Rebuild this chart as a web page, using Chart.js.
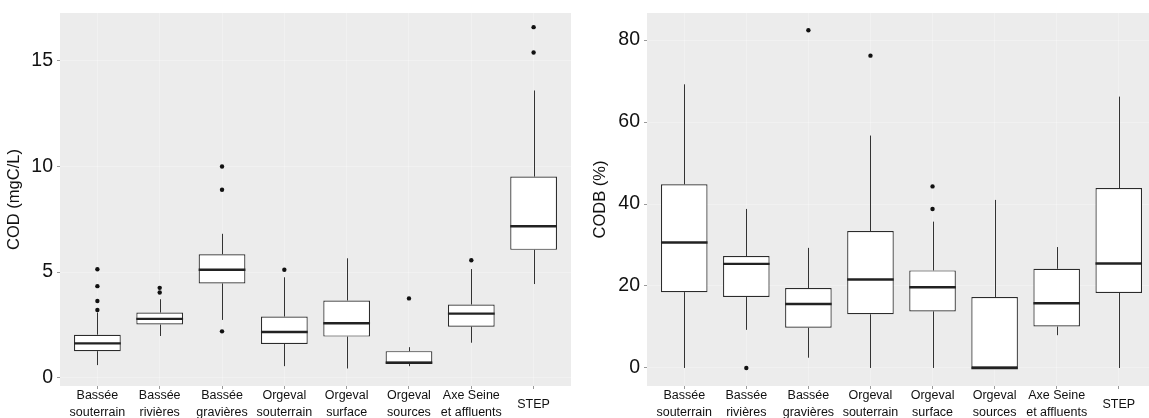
<!DOCTYPE html>
<html>
<head>
<meta charset="utf-8">
<script src="https://cdn.jsdelivr.net/npm/chart.js@4/dist/chart.umd.min.js"></script>
<style>
  html, body { margin: 0; padding: 0; background: #fff; overflow: hidden; width: 1149px; height: 418px; }
  canvas { position: absolute; top: 0; }
  #cod { left: 0; }
  #codb { left: 575px; }
</style>
</head>
<body>
<canvas id="cod" width="575" height="418"></canvas>
<canvas id="codb" width="585" height="418"></canvas>
<script>
const categories = [
    ['Bassée', 'souterrain'], ['Bassée', 'rivières'], ['Bassée', 'gravières'],
    ['Orgeval', 'souterrain'], ['Orgeval', 'surface'], ['Orgeval', 'sources'],
    ['Axe Seine', 'et affluents'], 'STEP'
];

// COD (mgC/L)
const codMin = [0.59, 1.97, 2.73, 0.54, 0.43, 0.54, 1.65, 4.43];
const codQ1 = [1.25, 2.51, 4.46, 1.59, 1.94, 0.70, 2.41, 6.05];
const codMed = [1.62, 2.78, 5.11, 2.16, 2.57, 0.70, 3.03, 7.17];
const codQ3 = [2.03, 3.08, 5.84, 2.89, 3.65, 1.25, 3.46, 9.52];
const codMax = [3.08, 3.71, 6.81, 4.75, 5.65, 1.44, 5.14, 13.6];
const codOut = [[3.2, 3.63, 4.33, 5.13], [4.03, 4.25], [2.19, 8.9, 10.0], [5.11], [], [3.75], [5.56], [15.4, 16.6]];
const codTicks = [0, 5, 10, 15];

// CODB (%)
const codbMin = [0, 9.3, 2.5, 0, 0, 0, 8.0, 0];
const codbQ1 = [18.5, 17.3, 9.8, 13.1, 13.8, 0, 10.1, 18.3];
const codbMed = [30.6, 25.4, 15.6, 21.6, 19.7, 0, 15.8, 25.5];
const codbQ3 = [44.8, 27.3, 19.5, 33.4, 23.8, 17.3, 24.2, 43.9];
const codbMax = [69.2, 38.8, 29.3, 56.7, 35.7, 41.0, 29.5, 66.2];
const codbOut = [[], [0], [82.4], [76.2], [38.8, 44.3], [], [], []];
const codbTicks = [0, 20, 40, 60, 80];

const font = "'Liberation Sans', Arial, sans-serif";

// panel background, whiskers and medians, all placed through the chart scales
function boxParts(lo, hi, med) {
    return {
        id: 'boxParts',
        beforeDraw(chart) {
            const { ctx, chartArea: a } = chart;
            ctx.save();
            ctx.fillStyle = '#ececec';
            ctx.fillRect(a.left, a.top, a.width, a.height);
            ctx.restore();
        },
        beforeDatasetsDraw(chart) {
            const { ctx, scales: { x, y } } = chart;
            const boxes = chart.data.datasets[0].data;
            ctx.save();
            ctx.strokeStyle = '#333';
            ctx.lineWidth = 1;
            boxes.forEach((b, i) => {
                const px = Math.round(x.getPixelForValue(b.x)) + 0.5;
                ctx.beginPath();
                ctx.moveTo(px, y.getPixelForValue(lo[i]));
                ctx.lineTo(px, y.getPixelForValue(b.y[0]));
                ctx.moveTo(px, y.getPixelForValue(b.y[1]));
                ctx.lineTo(px, y.getPixelForValue(hi[i]));
                ctx.stroke();
            });
            ctx.restore();
        },
        afterDatasetsDraw(chart) {
            const { ctx, scales: { y } } = chart;
            const bars = chart.getDatasetMeta(0).data;
            ctx.save();
            ctx.strokeStyle = '#222';
            ctx.lineWidth = 2.4;
            bars.forEach((bar, i) => {
                const py = y.getPixelForValue(med[i]);
                ctx.beginPath();
                ctx.moveTo(bar.x - bar.width / 2, py);
                ctx.lineTo(bar.x + bar.width / 2, py);
                ctx.stroke();
            });
            ctx.restore();
        }
    };
}

function boxChart(id, lo, q1, med, q3, hi, out, ticks, yMin, yMax, title, padLeft, yWidth, padRight) {
    const outliers = [];
    out.forEach((vals, i) => vals.forEach(v => outliers.push({ x: i + 1, y: v })));

    new Chart(document.getElementById(id), {
        type: 'bar',
        data: {
            datasets: [{
                data: categories.map((c, i) => ({ x: i + 1, y: [q1[i], q3[i]] })),
                backgroundColor: '#fff',
                borderColor: '#2b2b2b',
                borderWidth: 1.2,
                borderSkipped: false,
                categoryPercentage: 1,
                barPercentage: 0.75
            },
            {
                type: 'scatter',
                data: outliers,
                pointRadius: 2.2,
                pointBackgroundColor: '#111',
                pointBorderWidth: 0
            }]
        },
        options: {
            responsive: false,
            animation: false,
            layout: { padding: { top: 13, left: padLeft, right: padRight, bottom: 0 } },
            plugins: { legend: { display: false }, tooltip: { enabled: false } },
            scales: {
                x: {
                    type: 'linear',
                    min: 0.4,
                    max: 8.6,
                    offset: false,
                    border: { display: false },
                    grid: { offset: false, color: 'rgba(255,255,255,0.28)', tickColor: '#999', tickLength: 3 },
                    afterBuildTicks: s => { s.ticks = categories.map((c, i) => ({ value: i + 1 })); },
                    afterFit: s => { s.height = 32; s.paddingLeft = 0; s.paddingRight = 0; },
                    ticks: {
                        autoSkip: false,
                        maxRotation: 0,
                        crossAlign: 'center',
                        padding: 7,
                        color: '#111',
                        font: { family: font, size: 12.5, lineHeight: 1.3 },
                        callback: v => categories[v - 1]
                    }
                },
                y: {
                    min: yMin,
                    max: yMax,
                    border: { display: false },
                    grid: { color: 'rgba(255,255,255,0.28)', tickColor: '#999', tickLength: 3 },
                    afterBuildTicks: s => { s.ticks = ticks.map(v => ({ value: v })); },
                    afterFit: s => { s.width = yWidth; s.paddingTop = 0; s.paddingBottom = 0; },
                    ticks: {
                        padding: 4,
                        color: '#111',
                        font: { family: font, size: 19.5 }
                    },
                    title: {
                        display: true,
                        text: title,
                        color: '#111',
                        padding: { top: 5, bottom: 0 },
                        font: { family: font, size: 16.5, lineHeight: 1.2 }
                    }
                }
            }
        },
        plugins: [boxParts(lo, hi, med)]
    });
}

boxChart('cod', codMin, codQ1, codMed, codQ3, codMax, codOut, codTicks, -0.4, 17.27, 'COD (mgC/L)', 0, 60, 4);
boxChart('codb', codbMin, codbQ1, codbMed, codbQ3, codbMax, codbOut, codbTicks, -4.4, 86.6, 'CODB (%)', 11, 61, 3);
</script>
</body>
</html>
